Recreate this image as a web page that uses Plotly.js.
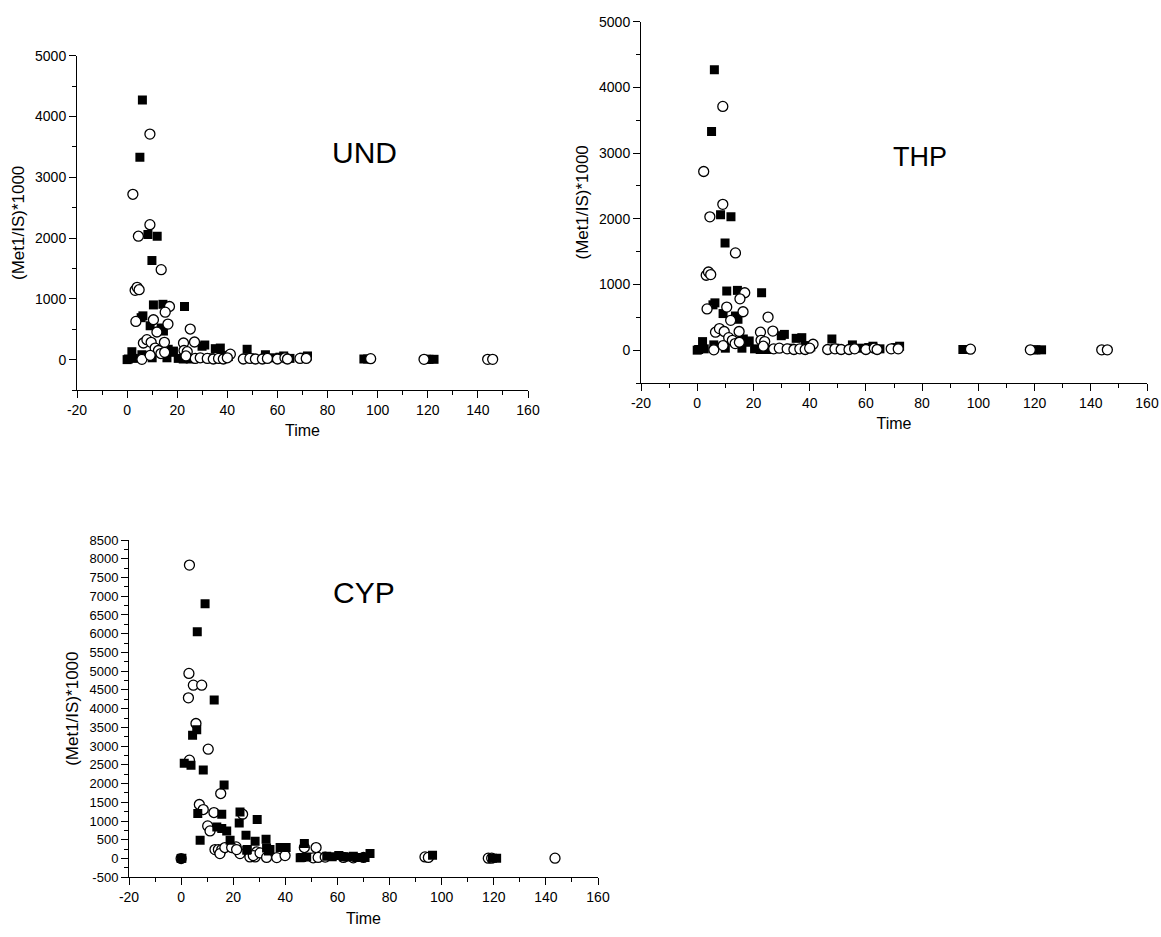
<!DOCTYPE html>
<html>
<head>
<meta charset="utf-8">
<script src="https://cdn.plot.ly/plotly-3.0.1.min.js"></script>
<style>html,body{margin:0;padding:0;background:#fff;}#chart{width:1161px;height:937px;}</style>
</head>
<body>
<div id="chart"></div>
<script>
// ---- UND data (filled squares / open circles) ----
const undSqTime = [6.1, 5.1, 8.3, 12.0, 9.9, 10.5, 14.3, 22.9, 6.3, 5.6, 9.2, 13.6, 14.5,
  0, 0.5, 1.9, 2.5, 5.9, 10, 15.9, 16.4, 17.2, 18.5, 20.4, 22.4, 25.2, 29.9, 31, 33, 35.2, 37.2,
  38.5, 40.4, 47.9, 49, 55.2, 58, 61, 62.5, 65, 70.5, 72, 94.5, 96, 119.5, 120.5, 122.5];
const undSqVal = [4270, 3330, 2060, 2030, 1630, 900, 910, 874, 720, 690, 557, 520, 470,
  0, 10, 130, 20, 80, 30, 30, 170, 120, 140, 20, 10, 10, 220, 240, 30, 180, 190,
  70, 50, 170, 30, 80, 30, 40, 60, 20, 40, 60, 10, 10, 5, 5, 5];
const undCiTime = [9.1, 2.3, 9.1, 4.5, 13.6, 3.2, 4.0, 4.8, 16.9, 15.2, 3.5, 10.5, 16.3, 11.9, 25.2,
  6.5, 7.9, 9.6, 14.9, 22.5, 26.9, 11.2, 12.5, 22.7, 5.9, 9.2, 13.5, 15, 24, 23.5, 27.2, 29.2, 32,
  34.4, 36.5, 38.4, 41.2, 40, 46.4, 49, 51.2, 54, 56, 60, 63, 64, 69, 71.5, 97.2, 118.5, 143.9, 145.9];
const undCiVal = [3710, 2720, 2220, 2030, 1480, 1140, 1190, 1150, 874, 781, 628, 656, 585, 454, 503,
  273, 328, 284, 284, 273, 290, 190, 150, 150, 5, 70, 100, 120, 130, 60, 20, 30, 20,
  10, 20, 10, 90, 30, 10, 20, 10, 10, 20, 10, 30, 10, 20, 20, 15, 5, 5, 5];

// ---- THP data (read as identical to UND in the picture) ----
const thpSqTime = undSqTime.slice();
const thpSqVal = undSqVal.slice();
const thpCiTime = undCiTime.slice();
const thpCiVal = undCiVal.slice();

// ---- CYP data ----
const cypSqTime = [0, 0.3, 9.2, 6.2, 12.7, 6.0, 4.4, 1.2, 3.8, 8.5, 16.5, 6.4, 15.6, 22.6, 22.3, 29.2,
  13.7, 15.6, 17.5, 7.3, 18.8, 24.9, 28.4, 32.6, 25.2, 25.4, 32.8, 34.1, 38, 40.3, 33.5, 47.3, 46.3,
  48.2, 45.7, 55.9, 58, 60.5, 62.3, 64, 66.1, 67.4, 70.6, 72.5, 96.5, 121.1, 119.5];
const cypSqVal = [0, 10, 6800, 6050, 4230, 3440, 3290, 2540, 2490, 2360, 1960, 1200, 1180, 1245, 951, 1041,
  844, 800, 737, 489, 489, 622, 462, 515, 222, 240, 280, 240, 294, 294, 200, 400, 30,
  40, 20, 60, 50, 80, 50, 40, 60, 30, 30, 133, 88, 10, 10];
const cypCiTime = [0, 3.2, 3.0, 4.7, 7.9, 2.8, 5.7, 10.4, 3.2, 15.2, 7.0, 8.5, 12.6, 23.6, 10.2, 11.1,
  13, 14.3, 15.6, 14.9, 21.1, 22.6, 26.4, 28.4, 29, 16.8, 19.4, 21.3, 27.7, 30.3, 32.8, 36.7, 39.9,
  47.3, 51.8, 50.7, 52.6, 55.3, 62.3, 66.1, 70, 93.6, 94.9, 117.9, 119.2, 143.5];
const cypCiVal = [0, 7830, 4940, 4627, 4627, 4289, 3604, 2918, 2625, 1735, 1442, 1308, 1228, 1183, 871, 737,
  240, 240, 240, 133, 310, 133, 43, 43, 176, 294, 294, 240, 80, 150, 30, 27, 80,
  294, 294, 20, 30, 40, 30, 20, 30, 43, 30, 10, 10, 10];

// ---- tick labels ----
const timeTicks = [-20, 0, 20, 40, 60, 80, 100, 120, 140, 160];
const ratioTicksUT = [0, 1000, 2000, 3000, 4000, 5000];
const ratioTicksCYP = [-500, 0, 500, 1000, 1500, 2000, 2500, 3000, 3500, 4000, 4500,
  5000, 5500, 6000, 6500, 7000, 7500, 8000, 8500];

const panelLabels = ['UND', 'THP', 'CYP'];
const yTitle = '(Met1/IS)*1000';
const xTitle = 'Time';

const FONT = 'Arial, "Liberation Sans", sans-serif';
const W = 1161, H = 937;

function sq(x, y, xa, ya) {
  return {x: x, y: y, xaxis: xa, yaxis: ya, type: 'scatter', mode: 'markers', showlegend: false,
    marker: {symbol: 'square', size: 9, color: '#000', line: {width: 0}}};
}
function ci(x, y, xa, ya) {
  return {x: x, y: y, xaxis: xa, yaxis: ya, type: 'scatter', mode: 'markers', showlegend: false,
    marker: {symbol: 'circle', size: 10, color: '#fff', line: {width: 1.3, color: '#000'}}};
}

const data = [
  sq(undSqTime, undSqVal, 'x', 'y'), ci(undCiTime, undCiVal, 'x', 'y'),
  sq(thpSqTime, thpSqVal, 'x2', 'y2'), ci(thpCiTime, thpCiVal, 'x2', 'y2'),
  ci(cypCiTime, cypCiVal, 'x3', 'y3'), sq(cypSqTime, cypSqVal, 'x3', 'y3')
];

function xax(x0, x1, anchor) {
  return {domain: [x0 / W, x1 / W], anchor: anchor, range: [-20, 160],
    tickmode: 'array', tickvals: timeTicks, ticktext: timeTicks.map(String),
    showgrid: false, zeroline: false, showline: true, linecolor: '#000', linewidth: 1,
    ticks: 'outside', ticklen: 7, tickwidth: 1, tickcolor: '#000',
    minor: {dtick: 10, tick0: 0, ticks: 'outside', ticklen: 4, tickcolor: '#000', showgrid: false},
    tickfont: {family: FONT, size: 14, color: '#000'},
    title: {text: xTitle, font: {family: FONT, size: 16, color: '#000'}, standoff: 8}};
}
function yax(yTop, yBot, anchor, rng, tv, mdt, tsize) {
  return {domain: [1 - yBot / H, 1 - yTop / H], anchor: anchor, range: rng,
    tickmode: 'array', tickvals: tv, ticktext: tv.map(String),
    showgrid: false, zeroline: false, showline: true, linecolor: '#000', linewidth: 1,
    ticks: 'outside', ticklen: 7, tickwidth: 1, tickcolor: '#000',
    minor: {dtick: mdt, tick0: 0, ticks: 'outside', ticklen: 4, tickcolor: '#000', showgrid: false},
    tickfont: {family: FONT, size: tsize, color: '#000'},
    title: {text: yTitle, font: {family: FONT, size: 17, color: '#000'}, standoff: 6}};
}

const layout = {
  width: W, height: H, margin: {l: 0, r: 0, t: 0, b: 0},
  paper_bgcolor: '#fff', plot_bgcolor: 'rgba(0,0,0,0)',
  font: {family: FONT, color: '#000'},
  xaxis: xax(77, 528, 'y'),
  yaxis: yax(55.7, 390, 'x', [-500, 5000], ratioTicksUT, 500, 14),
  xaxis2: xax(641, 1147, 'y2'),
  yaxis2: yax(21.7, 383, 'x2', [-500, 5000], ratioTicksUT, 500, 14),
  xaxis3: xax(129, 598, 'y3'),
  yaxis3: yax(540, 877.3, 'x3', [-500, 8500], ratioTicksCYP, 250, 13),
  annotations: [
    {text: panelLabels[0], x: 364 / W, y: 1 - 152 / H, xref: 'paper', yref: 'paper', showarrow: false,
      xanchor: 'center', yanchor: 'middle', font: {family: FONT, size: 30, color: '#000'}},
    {text: panelLabels[1], x: 920 / W, y: 1 - 157 / H, xref: 'paper', yref: 'paper', showarrow: false,
      xanchor: 'center', yanchor: 'middle', font: {family: FONT, size: 27, color: '#000'}},
    {text: panelLabels[2], x: 364 / W, y: 1 - 592 / H, xref: 'paper', yref: 'paper', showarrow: false,
      xanchor: 'center', yanchor: 'middle', font: {family: FONT, size: 30, color: '#000'}}
  ]
};

Plotly.newPlot('chart', data, layout, {staticPlot: true, displayModeBar: false});
</script>
</body>
</html>
